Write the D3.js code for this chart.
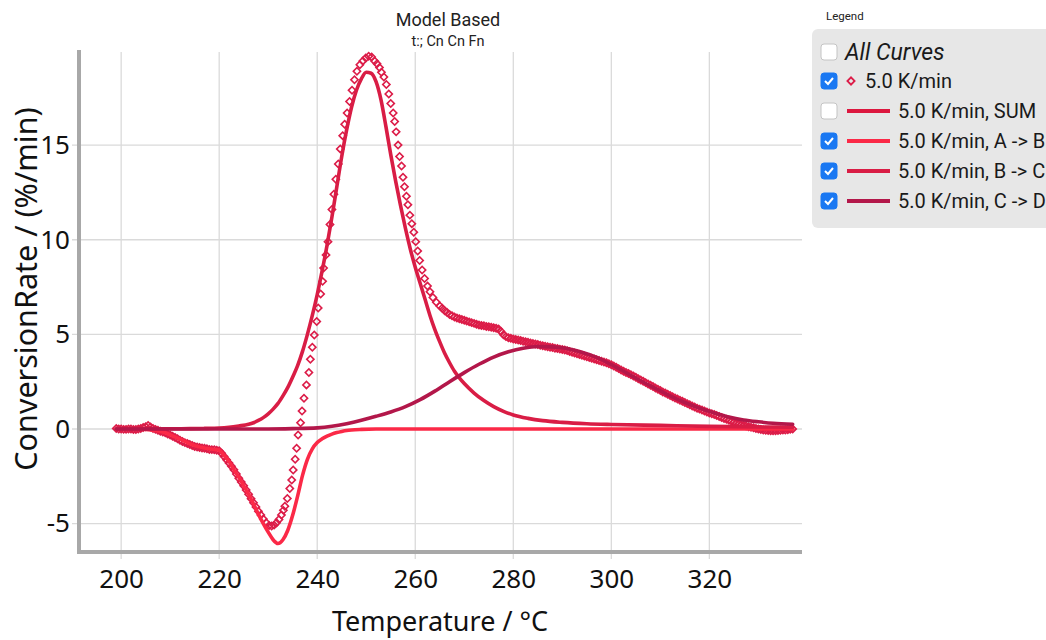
<!DOCTYPE html>
<html lang="en">
  <head>
    <meta charset="UTF-8">
    <title>Model Based</title>
    <script src="https://d3js.org/d3.v7.min.js"></script>
    <style>
      body {
        margin: 0;
        padding: 0;
        background-color: #fff;
      }
      svg {
        display: block;
        font-family: 'Noto Sans', sans-serif;
      }
      .tick-label {
        font-size: 26px;
        fill: #111;
      }
      .axis-title {
        fill: #111;
      }
      .legend-text {
        font-family: Roboto, sans-serif;
        font-size: 20px;
        fill: #1a1a1a;
      }
    </style>
  </head>
  <body>
    <script>
      // axis ticks
      const tempTicks = [200, 220, 240, 260, 280, 300, 320];
      const rateTicks = [-5, 0, 5, 10, 15];

      // measured points, 5.0 K/min  [T, rate]
      const measured = [
        [199, 0.02], [199.5, 0.0], [200, 0.0], [200.5, -0.02], [201, -0.02], [201.5, 0.0], [202, 0.0], [202.5, -0.03],
        [203, -0.03], [203.5, 0.0], [204, 0.03], [204.5, 0.08], [205, 0.12], [205.5, 0.18], [206, 0.1], [206.5, 0.03],
        [207, -0.02], [207.5, -0.07], [208, -0.12], [208.5, -0.16], [209, -0.2], [209.5, -0.26], [210, -0.32],
        [210.5, -0.38], [211, -0.45], [211.5, -0.52], [212, -0.6], [212.5, -0.66], [213, -0.72], [213.5, -0.77],
        [214, -0.82], [214.5, -0.87], [215, -0.92], [215.5, -0.95], [216, -0.98], [216.5, -1.0], [217, -1.02],
        [217.5, -1.05], [218, -1.08], [218.5, -1.09], [219, -1.1], [219.5, -1.12], [220, -1.15], [220.5, -1.28],
        [221, -1.45], [221.5, -1.62], [222, -1.8], [222.5, -1.97], [223, -2.15], [223.5, -2.38], [224, -2.6],
        [224.5, -2.8], [225, -3.0], [225.5, -3.22], [226, -3.45], [226.5, -3.68], [227, -3.9], [227.5, -4.12],
        [228, -4.35], [228.5, -4.55], [229, -4.75],
        [229.6, -4.95], [230.2, -5.1], [230.7, -5.13], [231.2, -5.08], [231.7, -4.95], [232.2, -4.78], [232.7, -4.55],
        [233.1, -4.3], [233.4, -4.08], [233.9, -3.67], [234.4, -3.14], [234.8, -2.7], [235.1, -2.17], [235.5, -1.6],
        [235.8, -1.02], [236.1, -0.32], [236.6, 0.33], [236.9, 0.95], [237.3, 1.62], [237.8, 2.33], [238.3, 2.98],
        [238.6, 3.69], [239.0, 4.32], [239.4, 4.97], [239.9, 5.68], [240.2, 6.39], [240.7, 7.13], [241.1, 7.8],
        [241.3, 8.5], [241.8, 9.2], [242.2, 9.9], [242.6, 10.8], [243.0, 11.6], [243.4, 12.4], [243.8, 13.2],
        [244.3, 14.0], [244.7, 14.8], [245.2, 15.5], [245.6, 16.1], [246.1, 16.7], [246.6, 17.3], [247.1, 17.9],
        [247.6, 18.45], [248.1, 18.9], [248.7, 19.25], [249.3, 19.45], [249.9, 19.6], [250.5, 19.7], [251.1, 19.65],
        [251.7, 19.45], [252.2, 19.3], [252.7, 19.1], [253.1, 18.85], [253.6, 18.6], [254.1, 18.2], [254.6, 17.7],
        [255.0, 17.2], [255.5, 16.7], [255.8, 16.25], [256.1, 15.7], [256.5, 15.0], [256.8, 14.4], [257.2, 13.9],
        [257.5, 13.3], [257.8, 12.8], [258.2, 12.3], [258.5, 11.85], [258.9, 11.3], [259.3, 10.85], [259.7, 10.4],
        [260.1, 9.9], [260.5, 9.4], [260.9, 8.9], [261.4, 8.4], [261.9, 7.95], [262.5, 7.55], [263.0, 7.25],
        [263.6, 6.95], [264.3, 6.7], [265.0, 6.5],
        [265.5, 6.38], [266, 6.25], [266.5, 6.15], [267, 6.05], [267.5, 5.98], [268, 5.92], [268.5, 5.87], [269, 5.82],
        [269.5, 5.78], [270, 5.74], [270.5, 5.7], [271, 5.66], [271.5, 5.62], [272, 5.58], [272.5, 5.54], [273, 5.5],
        [273.5, 5.47], [274, 5.45], [274.5, 5.42], [275, 5.4], [275.5, 5.38], [276, 5.35], [276.5, 5.32], [277, 5.28],
        [277.5, 5.15], [278, 4.98], [278.5, 4.88], [279, 4.82], [279.5, 4.79], [280, 4.76], [280.5, 4.73], [281, 4.7],
        [281.5, 4.67], [282, 4.64], [282.5, 4.61], [283, 4.58], [283.5, 4.55], [284, 4.52], [284.5, 4.49], [285, 4.46],
        [285.5, 4.43], [286, 4.4], [286.5, 4.37], [287, 4.35], [287.5, 4.32], [288, 4.3], [288.5, 4.27], [289, 4.25],
        [289.5, 4.22], [290, 4.2], [290.5, 4.17], [291, 4.14], [291.5, 4.1], [292, 4.06], [292.5, 4.02], [293, 3.98],
        [293.5, 3.94], [294, 3.9], [294.5, 3.86], [295, 3.82], [295.5, 3.78], [296, 3.74], [296.5, 3.7], [297, 3.66],
        [297.5, 3.62], [298, 3.58], [298.5, 3.54], [299, 3.5], [299.5, 3.45], [300, 3.4], [300.5, 3.33], [301, 3.26],
        [301.5, 3.19], [302, 3.12], [302.5, 3.05], [303, 2.99], [303.5, 2.93], [304, 2.87], [304.5, 2.8], [305, 2.73],
        [305.5, 2.66], [306, 2.59], [306.5, 2.52], [307, 2.45], [307.5, 2.38], [308, 2.31], [308.5, 2.24], [309, 2.17],
        [309.5, 2.1], [310, 2.03], [310.5, 1.96], [311, 1.9], [311.5, 1.83], [312, 1.77], [312.5, 1.7], [313, 1.64],
        [313.5, 1.58], [314, 1.52], [314.5, 1.46], [315, 1.4], [315.5, 1.34], [316, 1.28], [316.5, 1.22], [317, 1.16],
        [317.5, 1.1], [318, 1.05], [318.5, 1.0], [319, 0.95], [319.5, 0.9], [320, 0.85], [320.5, 0.8], [321, 0.76],
        [321.5, 0.71], [322, 0.66], [322.5, 0.61], [323, 0.56], [323.5, 0.51], [324, 0.46], [324.5, 0.41], [325, 0.37],
        [325.5, 0.32], [326, 0.28], [326.5, 0.24], [327, 0.2], [327.5, 0.16], [328, 0.12], [328.5, 0.09], [329, 0.06],
        [329.5, 0.03], [330, 0.0], [330.5, -0.03], [331, -0.05], [331.5, -0.07], [332, -0.08], [332.5, -0.09],
        [333, -0.1], [333.5, -0.09], [334, -0.08], [334.5, -0.07], [335, -0.06], [335.5, -0.05], [336, -0.04],
        [336.5, -0.02], [337, 0.0]
      ];

      // model step A -> B
      const stepAB = [
        [199, 0], [203, 0], [205, -0.02], [207, -0.08], [209, -0.2], [211, -0.42], [213, -0.66], [215, -0.88],
        [217, -1.0], [219, -1.08], [220, -1.12], [221, -1.4], [222, -1.72], [223, -2.15], [224, -2.55], [225, -3.0],
        [226, -3.45], [227, -3.95], [228, -4.5], [229, -5.0], [230, -5.45], [231, -5.85], [232, -6.05], [233, -5.85],
        [234, -5.35], [235, -4.55], [236, -3.55], [237, -2.45], [238, -1.6], [239, -1.05], [240, -0.72], [241, -0.52],
        [242, -0.38], [243, -0.27], [244, -0.19], [245, -0.13], [246, -0.08], [247, -0.05], [249, -0.02], [252, 0],
        [337, 0]
      ];

      // model step B -> C
      const stepBC = [
        [199, 0], [210, 0.01], [214, 0.02], [217, 0.03], [220, 0.05], [222, 0.09], [224, 0.16], [226, 0.25],
        [227, 0.33], [228, 0.45], [229, 0.6], [230, 0.8], [231, 1.05], [232, 1.35], [233, 1.75], [234, 2.2],
        [235, 2.75], [236, 3.35], [237, 4.1], [238, 5.0], [239, 6.0], [240, 7.1], [241, 8.35], [242, 9.7],
        [243, 11.2], [244, 12.8], [245, 14.4], [246, 15.8], [247, 17.0], [248, 17.9], [249, 18.5], [250, 18.85],
        [251, 18.8], [252, 18.35], [253, 17.4], [254, 16.0], [255, 14.5], [256, 13.1], [257, 11.8], [258, 10.6],
        [259, 9.5], [260, 8.55], [261, 7.7], [262, 6.85], [263, 6.0], [264, 5.25], [265, 4.6], [266, 4.0],
        [267, 3.5], [268, 3.05], [269, 2.7], [270, 2.4], [272, 1.9], [274, 1.5], [276, 1.18], [278, 0.93],
        [280, 0.74], [283, 0.56], [286, 0.44], [290, 0.35], [295, 0.28], [300, 0.24], [310, 0.19], [320, 0.14],
        [330, 0.11], [337, 0.1]
      ];

      // model step C -> D
      const stepCD = [
        [199, 0], [230, 0], [235, 0.02], [240, 0.06], [243, 0.14], [246, 0.28], [249, 0.46], [252, 0.67],
        [255, 0.9], [258, 1.18], [261, 1.55], [264, 2.0], [267, 2.5], [270, 2.98], [273, 3.42], [276, 3.8],
        [279, 4.08], [282, 4.27], [285, 4.36], [288, 4.34], [291, 4.25], [294, 4.05], [297, 3.78], [300, 3.4],
        [303, 2.98], [306, 2.55], [309, 2.15], [312, 1.75], [315, 1.4], [318, 1.1], [321, 0.85], [324, 0.63],
        [327, 0.48], [330, 0.38], [333, 0.3], [337, 0.25]
      ];

      const legendItems = [
        { label: "5.0 K/min", kind: "marker", color: "#dc1c48", checked: true },
        { label: "5.0 K/min, SUM", kind: "line", color: "#dc173f", checked: false },
        { label: "5.0 K/min, A -> B", kind: "line", color: "#fb2947", checked: true },
        { label: "5.0 K/min, B -> C", kind: "line", color: "#d91d45", checked: true },
        { label: "5.0 K/min, C -> D", kind: "line", color: "#b3174a", checked: true }
      ];

      const width = 1046, height = 640;
      const plotLeft = 79, plotRight = 802, plotTop = 52, plotBottom = 552;

      const svg = d3.select("body").append("svg").attr("width", width).attr("height", height);

      const x = d3.scaleLinear().domain([191.4, 338.9]).range([plotLeft, plotRight]);
      const y = d3.scaleLinear().domain([-6.5, 19.92]).range([plotBottom, plotTop]);

      // grid
      svg.append("g").selectAll("line").data(rateTicks).enter().append("line")
        .attr("x1", plotLeft - 7).attr("x2", plotRight).attr("y1", d => y(d)).attr("y2", d => y(d))
        .attr("stroke", "#dadada").attr("stroke-width", 1.3);
      svg.append("g").selectAll("line").data(tempTicks).enter().append("line")
        .attr("x1", d => x(d)).attr("x2", d => x(d)).attr("y1", plotTop).attr("y2", plotBottom + 7)
        .attr("stroke", "#dadada").attr("stroke-width", 1.3);

      // tick labels
      svg.append("g").attr("transform", `translate(0,${plotBottom})`)
        .call(d3.axisBottom(x).tickValues(tempTicks).tickSize(0).tickPadding(18).tickFormat(d => String(d)))
        .call(g => g.select(".domain").remove())
        .selectAll("text").attr("class", "tick-label");
      svg.append("g").attr("transform", `translate(${plotLeft - 9},0)`)
        .call(d3.axisLeft(y).tickValues(rateTicks).tickSize(0).tickPadding(0).tickFormat(d => String(d)))
        .call(g => g.select(".domain").remove())
        .selectAll("text").attr("class", "tick-label");
      svg.selectAll("g").attr("font-family", null).attr("font-size", null);

      // axis titles
      svg.append("text").attr("class", "axis-title").attr("text-anchor", "middle").style("font-size", "27px")
        .attr("x", 440).attr("y", 631).text("Temperature / °C");
      svg.append("text").attr("class", "axis-title").attr("text-anchor", "middle").style("font-size", "30.5px")
        .attr("transform", "translate(37,289) rotate(-90)").text("ConversionRate / (%/min)");

      // title
      svg.append("text").attr("x", 448).attr("y", 26).attr("text-anchor", "middle")
        .style("font-family", "Roboto, sans-serif").style("font-size", "18px").style("fill", "#222").text("Model Based");
      svg.append("text").attr("x", 448).attr("y", 46).attr("text-anchor", "middle")
        .style("font-family", "Roboto, sans-serif").style("font-size", "14.5px").style("fill", "#222").text("t:; Cn Cn Fn");

      // measured points
      const diamond = d3.symbol().type(d3.symbolSquare).size(26);
      svg.append("g").selectAll("path").data(measured).enter().append("path")
        .attr("d", diamond)
        .attr("transform", d => `translate(${x(d[0])},${y(d[1])}) rotate(45)`)
        .attr("fill", "none").attr("stroke", "#dc1c48").attr("stroke-width", 1.6);

      // model curves
      const line = d3.line().x(d => x(d[0])).y(d => y(d[1])).curve(d3.curveMonotoneX);
      [[stepAB, "#fb2947"], [stepBC, "#d91d45"], [stepCD, "#b3174a"]].forEach(([s, c]) => {
        svg.append("path").datum(s).attr("d", line)
          .attr("fill", "none").attr("stroke", c).attr("stroke-width", 3.6)
          .attr("stroke-linejoin", "round").attr("stroke-linecap", "round");
      });

      // axis lines
      svg.append("line").attr("x1", plotLeft).attr("x2", plotLeft).attr("y1", plotTop - 2).attr("y2", plotBottom + 2)
        .attr("stroke", "#a8a8a8").attr("stroke-width", 4);
      svg.append("line").attr("x1", plotLeft - 2).attr("x2", plotRight).attr("y1", plotBottom).attr("y2", plotBottom)
        .attr("stroke", "#a8a8a8").attr("stroke-width", 4);

      // legend
      svg.append("text").attr("x", 826).attr("y", 20)
        .style("font-family", "Roboto, sans-serif").style("font-size", "11.5px").style("fill", "#222").text("Legend");
      const lg = svg.append("g");
      lg.append("rect").attr("x", 812).attr("y", 29).attr("width", 250).attr("height", 199).attr("rx", 6)
        .attr("fill", "#e7e7e7");

      function checkbox(cy, checked) {
        const g = lg.append("g");
        g.append("rect").attr("x", 821).attr("y", cy - 8).attr("width", 16).attr("height", 16).attr("rx", 3)
          .attr("fill", checked ? "#1a78f2" : "#fff")
          .attr("stroke", checked ? "#1a78f2" : "#c4c4c4").attr("stroke-width", 1);
        if (checked) {
          g.append("path").attr("d", `M${825},${cy} L${828},${cy + 3} L${833},${cy - 3}`)
            .attr("fill", "none").attr("stroke", "#fff").attr("stroke-width", 2);
        }
      }

      checkbox(52, false);
      lg.append("text").attr("class", "legend-text").attr("x", 845).attr("y", 60)
        .style("font-size", "23px").style("font-style", "italic").text("All Curves");

      const rowY = [81, 111, 141, 171, 201];
      legendItems.forEach((item, i) => {
        const cy = rowY[i];
        checkbox(cy, item.checked);
        if (item.kind === "marker") {
          lg.append("path").attr("d", diamond).attr("transform", `translate(851,${cy}) rotate(45)`)
            .attr("fill", "none").attr("stroke", item.color).attr("stroke-width", 1.8);
          lg.append("text").attr("class", "legend-text").attr("x", 865).attr("y", cy + 7).text(item.label);
        } else {
          lg.append("line").attr("x1", 847).attr("x2", 890).attr("y1", cy).attr("y2", cy)
            .attr("stroke", item.color).attr("stroke-width", 4);
          lg.append("text").attr("class", "legend-text").attr("x", 898).attr("y", cy + 7).text(item.label);
        }
      });
    </script>
  </body>
</html>
